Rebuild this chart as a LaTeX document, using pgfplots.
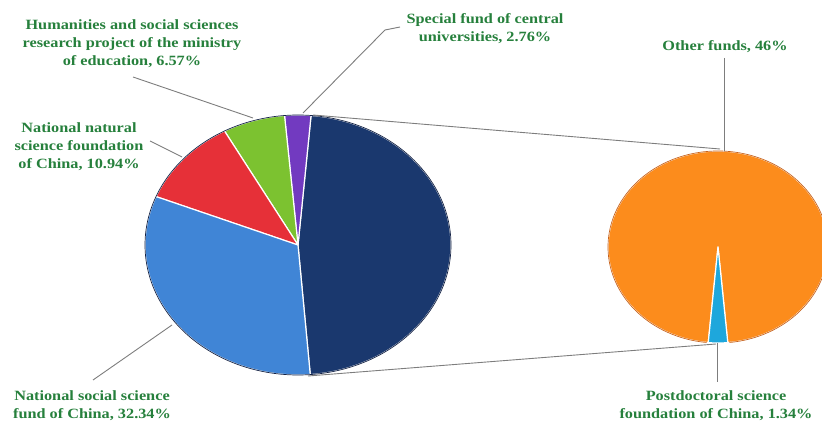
\documentclass[border=0pt]{standalone}
\usepackage{pgfplots}
\pgfplotsset{compat=1.18}
\usepackage{fontspec}
\setmainfont{Liberation Serif}
\newfontfamily\lblfont{Liberation Serif Bold}[FakeStretch=1.15]
\definecolor{cnavy}{RGB}{26,56,110}
\definecolor{cblue}{RGB}{64,133,214}
\definecolor{cred}{RGB}{230,48,56}
\definecolor{cgreen}{RGB}{124,194,48}
\definecolor{cpurple}{RGB}{114,58,192}
\definecolor{corange}{RGB}{252,140,28}
\definecolor{ccyan}{RGB}{30,167,220}
\definecolor{clbl}{RGB}{38,128,60}
\definecolor{clead}{RGB}{125,125,125}
\definecolor{cnavyedge}{RGB}{20,35,70}
\definecolor{corangeedge}{RGB}{200,100,30}
% data (percent)
\def\vOther{47.34}% Other funds + Postdoctoral (composite slice)
\def\vSpec{2.76}
\def\vHum{6.57}
\def\vNNSF{10.94}
\def\vNSSF{32.34}
\def\vOF{46}
\def\vPD{1.34}
\newcommand\slice[7]{%
  \addplot[fill=#1, draw=white, line width=1.2pt, line join=round,
    domain=#2:#3, samples=90] ({#4+#6*cos(x)},{#5+#7*sin(x)}) -- (axis cs:#4,#5) -- cycle;}
\begin{document}
\begin{tikzpicture}
\pgfmathsetmacro\tot{\vOther+\vSpec+\vHum+\vNNSF+\vNSSF}
\pgfmathsetmacro\aA{-85.4}
\pgfmathsetmacro\aB{\aA+360*(\vOther/\tot)}
\pgfmathsetmacro\aC{\aB+360*(\vSpec/\tot)}
\pgfmathsetmacro\aD{\aC+360*(\vHum/\tot)}
\pgfmathsetmacro\aE{\aD+360*(\vNNSF/\tot)}
\pgfmathsetmacro\aF{\aA+360}
\pgfmathsetmacro\bA{-90-180*(\vPD/(\vOF+\vPD))}
\pgfmathsetmacro\bB{-90+180*(\vPD/(\vOF+\vPD))}
\pgfmathsetmacro\bC{\bA+360}
\begin{axis}[hide axis, scale only axis, width=822bp, height=424bp,
  xmin=0, xmax=822, ymin=0, ymax=424, clip=true]
\addplot[draw=none, forget plot] coordinates {(0,0) (822,424)};
% main pie
\slice{cnavy}{\aA}{\aB}{298}{179}{153}{130}
\slice{cpurple}{\aB}{\aC}{298}{179}{153}{130}
\slice{cgreen}{\aC}{\aD}{298}{179}{153}{130}
\slice{cred}{\aD}{\aE}{298}{179}{153}{130}
\slice{cblue}{\aE}{\aF}{298}{179}{153}{130}
\addplot[draw=cnavyedge, line width=0.7pt, domain=0:360, samples=240] ({298+153*cos(x)},{179+130*sin(x)});
% second pie
\slice{corange}{\bB}{\bC}{718}{177}{110}{96}
\slice{ccyan}{\bA}{\bB}{718}{177}{110}{96}
\addplot[draw=corangeedge, line width=0.7pt, domain=-84:264, samples=240] ({718+110*cos(x)},{177+96*sin(x)});
% connector lines
\addplot[clead, line width=0.9pt] coordinates {(313,309) (720,275)};
\addplot[clead, line width=0.9pt] coordinates {(308,48) (716,80)};
% leader lines
\addplot[clead, line width=0.9pt] coordinates {(133,347) (253,306)};
\addplot[clead, line width=0.9pt] coordinates {(400,397) (385,394) (303,311)};
\addplot[clead, line width=0.9pt] coordinates {(150,283) (182,267)};
\addplot[clead, line width=0.9pt] coordinates {(724,366) (724,273)};
\addplot[clead, line width=0.9pt] coordinates {(93,44) (172,99)};
\addplot[clead, line width=0.9pt] coordinates {(717,81) (717,42)};
% labels
\tikzset{lbl/.style={font=\lblfont\fontsize{14.2}{18}\selectfont, text=clbl, align=center, inner sep=0pt}}
\node[lbl] at (axis cs:132,380) {Humanities and social sciences\\research project of the ministry\\of education, 6.57\%};
\node[lbl] at (axis cs:485,395) {Special fund of central\\universities, 2.76\%};
\node[lbl] at (axis cs:725,377) {Other funds, 46\%};
\node[lbl] at (axis cs:79,277) {National natural\\science foundation\\of China, 10.94\%};
\node[lbl] at (axis cs:92,18) {National social science\\fund of China, 32.34\%};
\node[lbl] at (axis cs:716,18) {Postdoctoral science\\foundation of China, 1.34\%};
\end{axis}
\end{tikzpicture}
\end{document}
